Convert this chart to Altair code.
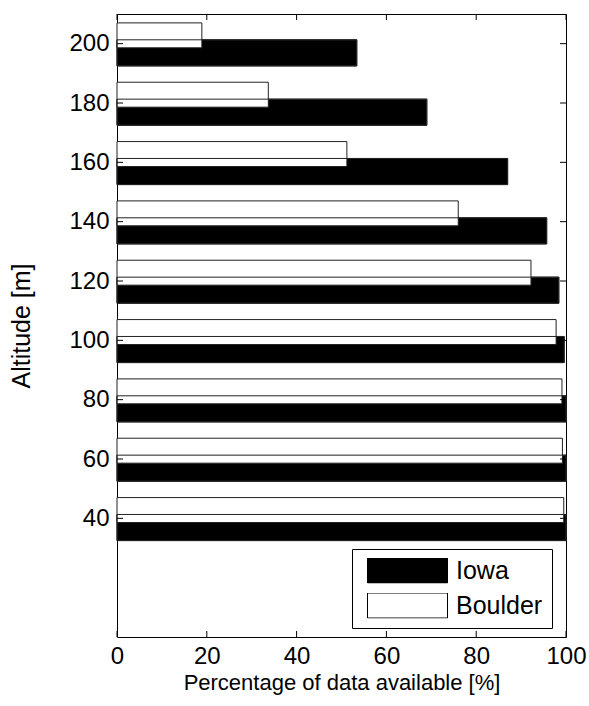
import altair as alt
import pandas as pd

altitudes = [40, 60, 80, 100, 120, 140, 160, 180, 200]
iowa = [100, 100, 100, 99.6, 98.4, 95.7, 87.0, 69.0, 53.4]
boulder = [99.5, 99.2, 99.1, 97.8, 92.2, 76.0, 51.2, 33.7, 18.9]
series = ["Iowa", "Boulder"]
x_ticks = [0, 20, 40, 60, 80, 100]
y_ticks = [40, 60, 80, 100, 120, 140, 160, 180, 200]

W, H = 449, 623
FONT = "Liberation Sans"

rows = []
for a, v in zip(altitudes, iowa):
    rows.append({"alt": a, "pct": v, "site": "Iowa"})
for a, v in zip(altitudes, boulder):
    rows.append({"alt": a, "pct": v, "site": "Boulder"})
df = pd.DataFrame(rows)

xs = alt.Scale(domain=[0, 100], nice=False, zero=True)
ys = alt.Scale(domain=[0, 210], nice=False, zero=True)

x_axis = alt.Axis(values=x_ticks, tickSize=0, domain=False, grid=False, labelFlush=False,
                  labelFontSize=24, labelFont=FONT, labelColor="black", labelPadding=7,
                  title="Percentage of data available [%]", titleFontSize=22, titleFont=FONT,
                  titleFontWeight="normal", titleColor="black", titlePadding=4)
y_axis = alt.Axis(values=y_ticks, tickSize=0, domain=False, grid=False, labelFlush=False,
                  labelFontSize=24, labelFont=FONT, labelColor="black", labelPadding=8,
                  title="Altitude [m]", titleFontSize=25, titleFont=FONT,
                  titleFontWeight="normal", titleColor="black", titlePadding=34)

legend = alt.Legend(title=None, orient="none", legendX=235, legendY=535,
                    symbolType="M-1,-0.3125L1,-0.3125L1,0.3125L-1,0.3125Z",
                    symbolSize=6400, symbolStrokeColor="black", symbolStrokeWidth=1,
                    labelFontSize=25, labelFont=FONT, labelColor="black", labelOffset=8,
                    padding=9, strokeColor="black", fillColor="white", cornerRadius=0,
                    rowPadding=9, clipHeight=25, symbolOffset=6, direction="vertical",
                    labelLimit=300)

bars = alt.Chart(df).transform_calculate(
    lo="datum.site == 'Iowa' ? datum.alt - 7.5 : datum.alt - 1.4",
    hi="datum.site == 'Iowa' ? datum.alt + 1.3 : datum.alt + 7",
).mark_rect(stroke="#222222", strokeWidth=1).encode(
    x=alt.X("pct:Q", scale=xs, axis=x_axis),
    x2=alt.datum(0),
    y=alt.Y("lo:Q", scale=ys, axis=y_axis),
    y2="hi:Q",
    color=alt.Color("site:N", scale=alt.Scale(domain=series, range=["black", "white"]), legend=legend),
)

outline = alt.Chart(df).transform_filter(alt.datum.site == "Iowa").transform_calculate(
    lo="datum.alt - 7.5", hi="datum.alt + 1.3"
).mark_rect(fillOpacity=0, stroke="#222222", strokeWidth=1).encode(
    x=alt.X("pct:Q", scale=xs), x2=alt.datum(0),
    y=alt.Y("lo:Q", scale=ys), y2="hi:Q",
)

ydf = pd.DataFrame({"v": y_ticks})
xdf = pd.DataFrame({"v": x_ticks})
tl = alt.Chart(ydf).mark_rule(color="black", strokeWidth=1).encode(
    y=alt.Y("v:Q", scale=ys), x=alt.value(0), x2=alt.value(6))
tr = alt.Chart(ydf).mark_rule(color="black", strokeWidth=1).encode(
    y=alt.Y("v:Q", scale=ys), x=alt.value(W - 6), x2=alt.value(W))
tb = alt.Chart(xdf).mark_rule(color="black", strokeWidth=1).encode(
    x=alt.X("v:Q", scale=xs), y=alt.value(H - 6), y2=alt.value(H))
tt = alt.Chart(xdf).mark_rule(color="black", strokeWidth=1).encode(
    x=alt.X("v:Q", scale=xs), y=alt.value(0), y2=alt.value(6))

chart = alt.layer(bars, outline, tl, tr, tb, tt).properties(
    width=W, height=H,
    autosize=alt.AutoSizeParams(type="none"),
    padding={"left": 117, "top": 14, "right": 23, "bottom": 69},
    background="white",
).configure_view(stroke="black", strokeWidth=1)

chart.save("out.html", embed_options={"renderer": "svg", "actions": False})
